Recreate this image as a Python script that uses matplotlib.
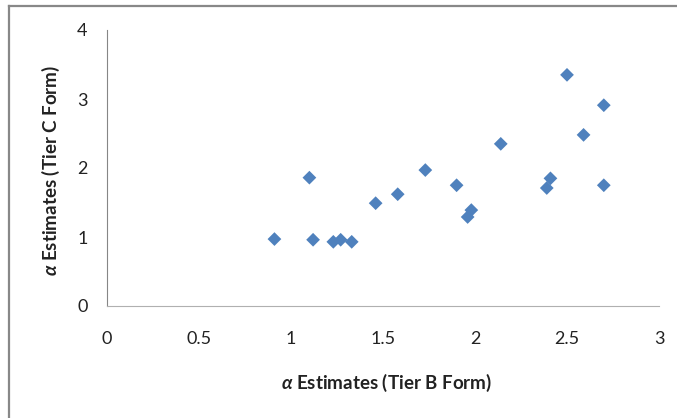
import matplotlib
matplotlib.use("Agg")
import matplotlib.pyplot as plt
from matplotlib.lines import Line2D

tier_b = [0.91, 1.10, 1.12, 1.23, 1.27, 1.33, 1.46, 1.58, 1.73, 1.90, 1.96, 1.98,
          2.14, 2.39, 2.41, 2.50, 2.59, 2.70, 2.70]
tier_c = [0.97, 1.86, 0.96, 0.93, 0.96, 0.93, 1.49, 1.62, 1.97, 1.75, 1.29, 1.39,
          2.35, 1.71, 1.85, 3.35, 2.48, 2.91, 1.75]

xticks = [0, 0.5, 1, 1.5, 2, 2.5, 3]
yticks = [0, 1, 2, 3, 4]

plt.rcParams["font.family"] = ["Lato", "DejaVu Sans"]
plt.rcParams["mathtext.fontset"] = "custom"
plt.rcParams["mathtext.it"] = "Lato:italic:bold"
plt.rcParams["mathtext.rm"] = "Lato:bold"

fig = plt.figure(figsize=(6.77, 4.18), dpi=100)
ax = fig.add_axes([107 / 677, 1 - 306 / 418, 552 / 677, 276 / 418])

ax.scatter(tier_b, tier_c, marker="D", s=7 ** 2, color="#4F81BD",
           edgecolors="none", zorder=3)

ax.set_xlim(0, 3)
ax.set_ylim(0, 4)
ax.set_xticks(xticks)
ax.set_xticklabels([f"{t:g}" for t in xticks])
ax.set_yticks(yticks)
ax.tick_params(length=0, labelsize=13, colors="#222222")
ax.tick_params(axis="x", pad=18)
ax.tick_params(axis="y", pad=14)

for side in ["top", "right"]:
    ax.spines[side].set_visible(False)
ax.spines["left"].set_color("#868686")
ax.spines["bottom"].set_color("#B0B0B0")

ax.set_xlabel(r"$\alpha$ Estimates (Tier B Form)", fontsize=13.5, fontweight="bold",
              color="#222222")
ax.xaxis.set_label_coords(0.507, -0.279)
ax.xaxis.label.set_va("center")
ax.set_ylabel(r"$\alpha$ Estimates (Tier C Form)", fontsize=13.5, fontweight="bold",
              color="#222222")
ax.yaxis.set_label_coords(-0.101, 0.493)
ax.yaxis.label.set_va("center")

# outer chart border (only top and left edges show in the crop)
fig.add_artist(Line2D([9 / 677, 9 / 677], [0, 1 - 5.5 / 418], color="#888888", lw=1.6))
fig.add_artist(Line2D([9 / 677, 1], [1 - 5.5 / 418, 1 - 5.5 / 418], color="#888888", lw=1.6))

fig.savefig("out.png", dpi=100)
